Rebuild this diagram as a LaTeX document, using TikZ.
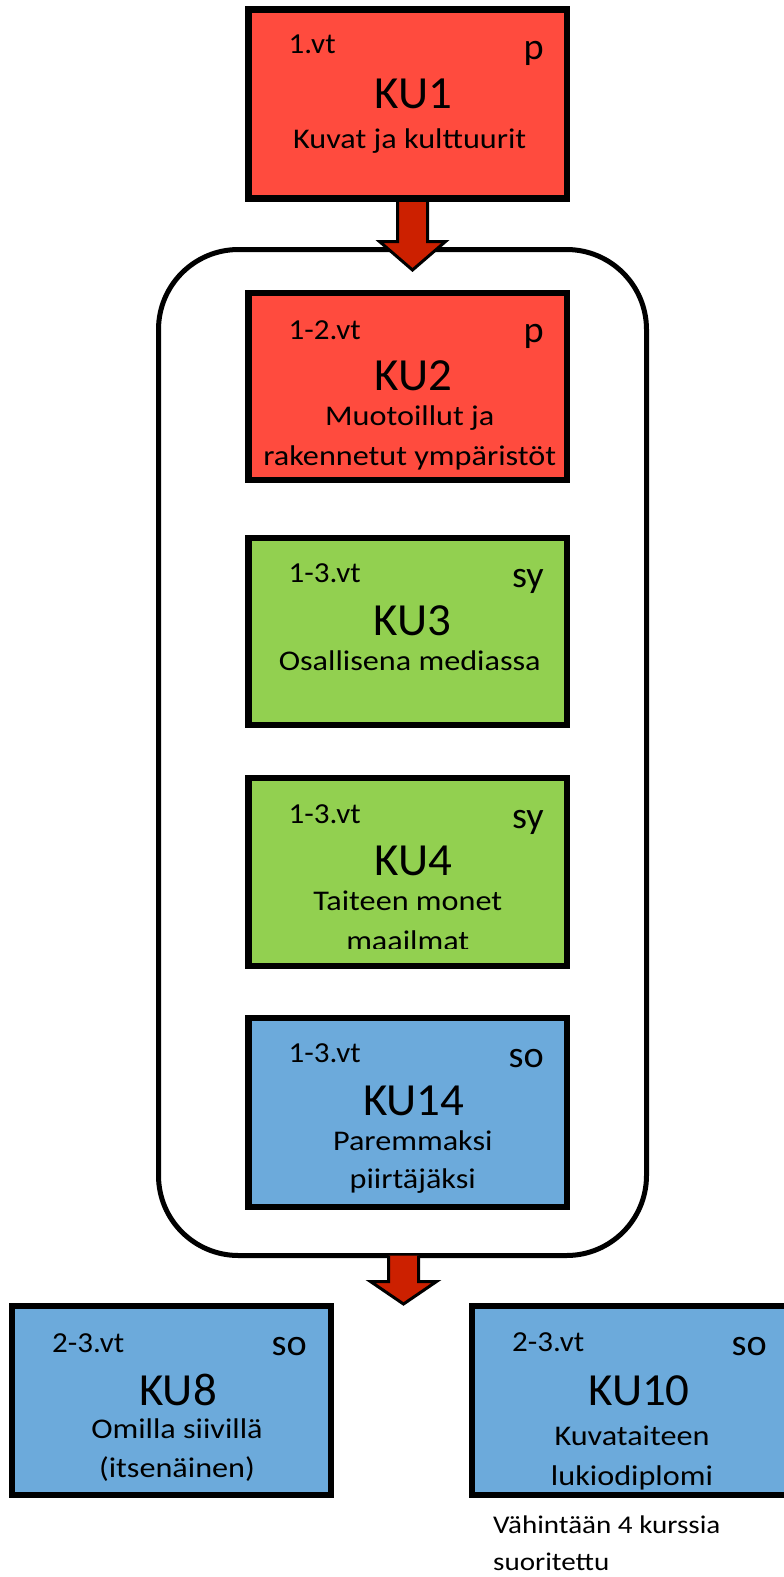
\documentclass[tikz,border=0pt]{standalone}
\usepackage{fontspec}
\setmainfont{Carlito}
\newfontfamily\ttlfont{Carlito}[FakeStretch=1.02]
\newfontfamily\subfont{Carlito}[FakeStretch=1.13]
\newfontfamily\lblfont{Carlito}[FakeStretch=1.07]
\newfontfamily\tagfont{Carlito}[FakeStretch=1.02]
\newfontfamily\notefont{Carlito}[FakeStretch=1.14]
\usetikzlibrary{calc}
\definecolor{boxred}{RGB}{255,75,62}
\definecolor{boxgreen}{RGB}{146,208,80}
\definecolor{boxblue}{RGB}{108,170,219}
\definecolor{arrred}{RGB}{204,32,0}
\tikzset{
  box/.style={draw=black, line width=6.5pt, minimum width=318.5pt, inner sep=0pt, outer sep=0pt},
  redbox/.style={box, fill=boxred},
  greenbox/.style={box, fill=boxgreen},
  bluebox/.style={box, fill=boxblue},
  lbl/.style={inner sep=0pt, anchor=base west, font=\lblfont\fontsize{29}{32}\selectfont},
  tag/.style={inner sep=0pt, anchor=base east, font=\tagfont\fontsize{37.5}{40}\selectfont},
  ttl/.style={inner sep=0pt, anchor=base, font=\ttlfont\fontsize{46}{50}\selectfont},
  sub/.style={inner sep=0pt, anchor=base, font=\subfont\fontsize{28.5}{32}\selectfont},
  note/.style={inner sep=0pt, anchor=base west, font=\notefont\fontsize{25.5}{28}\selectfont},
  blockarrow/.style={fill=arrred, draw=black, line width=3pt, line join=miter},
  container/.style={draw=black, line width=5pt, rounded corners=80pt, minimum width=488pt, minimum height=1006pt, inner sep=0pt, outer sep=0pt}
}
\begin{document}
\begin{tikzpicture}[x=1pt,y=-1pt]
\useasboundingbox[fill=white] (0,0) rectangle (784,1577);
% container
\node[container] (cont) at (402.5,752.5) {};
% boxes
\node[redbox, minimum height=189pt] (ku1) at (407.75,104) {};
\node[redbox, minimum height=187pt] (ku2) at (407.75,386.5) {};
\node[greenbox, minimum height=187pt] (ku3) at (407.75,631.5) {};
\node[greenbox, minimum height=188pt] (ku4) at (407.75,872) {};
\node[bluebox, minimum height=189pt] (ku14) at (407.75,1112.5) {};
\node[bluebox, minimum width=319pt, minimum height=189pt] (ku8) at (171.5,1400.5) {};
\node[bluebox, minimum width=319pt, minimum height=189pt] (ku10) at (631.5,1400.5) {};
% arrow KU1 -> container
\coordinate (s1) at ($(ku1.south)+(4.75,0)$);
\draw[blockarrow] ($(s1)+(-15,-3)$) -- ($(s1)+(-15,43)$) -- ($(s1)+(-33,43)$) -- ($(s1)+(0,71.5)$)
  -- ($(s1)+(33,43)$) -- ($(s1)+(15,43)$) -- ($(s1)+(15,-3)$);
% arrow container -> bottom row
\coordinate (s2) at ($(cont.south)+(1,0)$);
\draw[blockarrow] ($(s2)+(-15,0)$) -- ($(s2)+(-15,26)$) -- ($(s2)+(-33,26)$) -- ($(s2)+(0,48.5)$)
  -- ($(s2)+(33,26)$) -- ($(s2)+(15,26)$) -- ($(s2)+(15,0)$);
% redraw KU1 border over shaft top
\draw[line width=6.5pt] (ku1.south west) -- (ku1.south east);
% KU1
\node[lbl] at ($(ku1.north west)+(40,44)$) {1.vt};
\node[tag] at ($(ku1.north east)+(-23,49.5)$) {p};
\node[ttl] at ($(ku1.north)+(6,98.5)$) {KU1};
\node[sub] at ($(ku1.north)+(2,138.5)$) {Kuvat ja kulttuurit};
% KU2
\node[lbl] at ($(ku2.north west)+(40,46)$) {1-2.vt};
\node[tag] at ($(ku2.north east)+(-23,49)$) {p};
\node[ttl] at ($(ku2.north)+(6,97)$) {KU2};
\node[sub] at ($(ku2.north)+(2,132)$) {Muotoillut ja};
\node[sub] at ($(ku2.north)+(2,172)$) {rakennetut ympäristöt};
% KU3
\node[lbl] at ($(ku3.north west)+(40,44)$) {1-3.vt};
\node[tag] at ($(ku3.north east)+(-23,49)$) {sy};
\node[ttl] at ($(ku3.north)+(5,97)$) {KU3};
\node[sub] at ($(ku3.north)+(2,132)$) {Osallisena mediassa};
% KU4
\node[lbl] at ($(ku4.north west)+(40,45)$) {1-3.vt};
\node[tag] at ($(ku4.north east)+(-23,50)$) {sy};
\node[ttl] at ($(ku4.north)+(6,97)$) {KU4};
\node[sub] at ($(ku4.north)+(0,132)$) {Taiteen monet};
\begin{scope}
\clip (200,900) rectangle (620,948);
\node[sub] at ($(ku4.north)+(0,172)$) {maailmat};
\end{scope}
% KU14
\node[lbl] at ($(ku14.north west)+(40,44)$) {1-3.vt};
\node[tag] at ($(ku14.north east)+(-23,49)$) {so};
\node[ttl] at ($(ku14.north)+(6,97)$) {KU14};
\node[sub] at ($(ku14.north)+(5,132)$) {Paremmaksi};
\node[sub] at ($(ku14.north)+(5,170)$) {piirtäjäksi};
% KU8
\node[lbl] at ($(ku8.north west)+(40,46)$) {2-3.vt};
\node[tag] at ($(ku8.north east)+(-24,49)$) {so};
\node[ttl] at ($(ku8.north)+(6.5,99)$) {KU8};
\node[sub] at ($(ku8.north)+(5.5,132)$) {Omilla siivillä};
\node[sub] at ($(ku8.north)+(5.5,171)$) {(itsenäinen)};
% KU10
\node[lbl] at ($(ku10.north west)+(40,45)$) {2-3.vt};
\node[tag] at ($(ku10.north east)+(-24,49)$) {so};
\node[ttl] at ($(ku10.north)+(7.5,99)$) {KU10};
\node[sub] at ($(ku10.north)+(0.5,139)$) {Kuvataiteen};
\node[sub] at ($(ku10.north)+(0.5,179)$) {lukiodiplomi};
% note
\node[note] (note) at ($(ku10.south west)+(21,38)$) {Vähintään 4 kurssia};
\node[note] at ($(note.base west)+(0,37)$) {suoritettu};
\end{tikzpicture}
\end{document}
